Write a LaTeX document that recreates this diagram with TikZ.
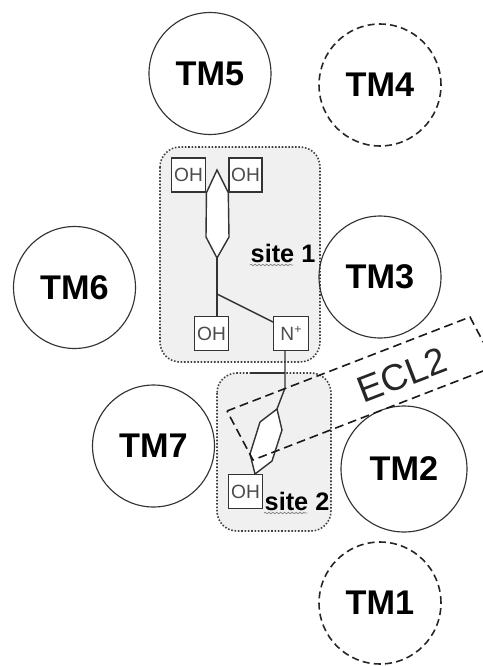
\documentclass[tikz,border=0pt]{standalone}
\usepackage{fontspec}
\setmainfont{Liberation Sans}
\usepackage{xcolor}
\usetikzlibrary{positioning,decorations.pathmorphing}
\definecolor{sitegrey}{HTML}{F0F0F0}
\definecolor{linegrey}{HTML}{333333}

\begin{document}
\begin{tikzpicture}[x=0.02cm,y=-0.02cm,line width=0.8pt,draw=linegrey,
  tm/.style={draw,circle,inner sep=0pt,line width=0.65pt,minimum size=2.44cm,
    font=\fontsize{19.5}{19.5}\selectfont\bfseries,text=black},
  tmout/.style={tm,line width=0.9pt,draw=black!85,dash pattern=on 4pt off 2.4pt},
  sitebox/.style={draw=black!75,fill=sitegrey,rounded corners=0.4cm,densely dotted,line width=0.9pt},
  sitelab/.style={font=\fontsize{14.4}{14.4}\selectfont\bfseries,text=black,inner sep=0pt},
  squiggle/.style={draw=black!50,line width=0.4pt,decorate,decoration={snake,amplitude=0.4pt,segment length=2.2pt}},
  grp/.style={draw,fill=white,minimum width=0.69cm,minimum height=0.68cm,inner sep=0pt,
    font=\fontsize{10.9}{11}\selectfont,text=black!70}]
\useasboundingbox (0,0) rectangle (483,666);
\clip (0,0) rectangle (483,666);
% binding sites
\draw[sitebox] (160,147) rectangle (320,362);
\draw[sitebox] (217,373) rectangle (331,531);
% helices
\node[tm] (tm5) at (210,73.5) {TM5};
\node[tmout] (tm4) at (380,85) {TM4};
\node[tm] (tm6) at (74.5,287.5) {TM6};
\node[tm] (tm3) at (380,277) {TM3};
\node[tm] (tm7) at (153.5,446) {TM7};
\node[tm,minimum size=2.52cm] (tm2) at (404,469) {TM2};
\node[tmout] (tm1) at (380,603) {TM1};
% ligand groups
\node[grp] (ohA) at (188.5,175) {OH};
\node[grp,minimum width=0.66cm] (ohB) at (245.5,175) {OH};
\node[grp] (ohC) at (211.5,333.5) {OH};
\node[grp] (nplus) at (291,333.5) {N\raisebox{0.7ex}{\fontsize{7}{7}\selectfont +}};
\node[grp] (ohD) at (245.5,491.5) {OH};
% ring and chain of site 1
\coordinate (ringtop) at (217,170);
\coordinate (ringR) at (229,237);
\coordinate (ringbot) at (217,258);
\coordinate (ringL) at (206,237);
\coordinate (fork) at (217,294);
\draw[fill=white] (ohA.south east) -- (ringtop) -- (ohB.south west) -- (ringR) -- (ringbot) -- (ringL) -- cycle;
\draw (ringbot) -- (fork) -- (ohC.north -| fork);
\draw (fork) -- (nplus.north west |- 0,322);
% ring and chain of site 2
\coordinate (bendA) at (285,388);
\coordinate (ringA) at (277,409);
\coordinate (ringB) at (260,422);
\coordinate (ringC) at (250,454);
\coordinate (ringD) at (255,474);
\coordinate (ringE) at (272,461);
\coordinate (ringF) at (282,430);
\coordinate (stub) at (250,373);
\draw[fill=white] (ringA) -- (ringB) -- (ringC) -- (ringD) -- (ringE) -- (ringF) -- cycle;
\draw (nplus.south -| bendA) -- (bendA) -- (ringA);
\draw (stub) -- (stub -| bendA);
% loop
\coordinate (eclA) at (227,411);
\coordinate (eclB) at (470,317);
\coordinate (eclC) at (496,366);
\coordinate (eclD) at (253,460);
\draw[dash pattern=on 5pt off 2.8pt,line width=0.9pt,draw=black!90] (eclA) -- (eclB) -- (eclC) -- (eclD) -- cycle;
\node[rotate=21,inner sep=0pt,font=\fontsize{21}{21}\selectfont,text=black!85] (ecl) at (402,375) {ECL2};
% labels
\node[sitelab,anchor=base west] (siteA) at (250,262) {site 1};
\node[sitelab,anchor=base west] (siteB) at (264,510) {site 2};
\draw[squiggle] (siteA.base west) ++(0,3) -- ++(43,0);
\draw[squiggle] (siteB.base west) ++(0,3) -- ++(43,0);
\end{tikzpicture}
\end{document}
